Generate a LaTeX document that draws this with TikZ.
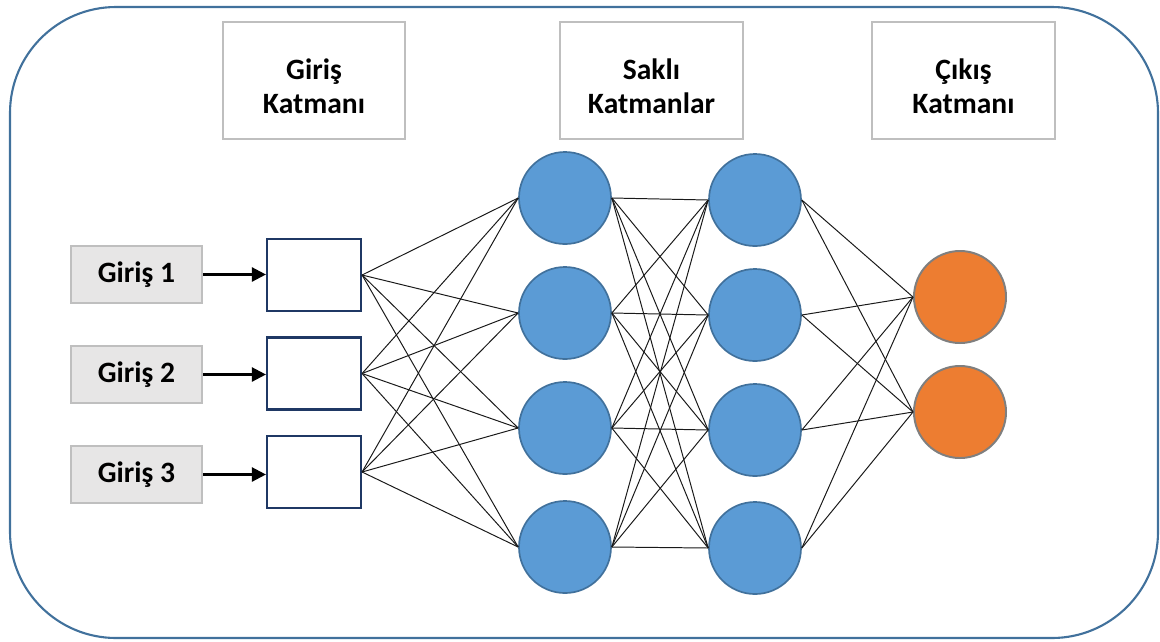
\documentclass[tikz,border=0pt]{standalone}
\usepackage{fontspec}
\setmainfont{Carlito}
\usetikzlibrary{arrows.meta}
\definecolor{frameblue}{HTML}{41719C}
\definecolor{boxgray}{HTML}{BFBFBF}
\definecolor{fillgray}{HTML}{E7E6E6}
\definecolor{navy}{HTML}{1F3864}
\definecolor{nodeblue}{HTML}{5B9BD5}
\definecolor{nodeblueb}{HTML}{41719C}
\definecolor{nodeorange}{HTML}{ED7D31}
\definecolor{orangeb}{HTML}{7F7F7F}
\tikzset{
  titlebox/.style={draw=boxgray, line width=1.4pt, fill=white, minimum width=4.55cm, minimum height=2.925cm, inner sep=0pt},
  titletext/.style={align=center, inner sep=0pt, font=\bfseries\fontsize{21}{24}\selectfont},
  inbox/.style={draw=boxgray, line width=1.4pt, fill=fillgray, minimum width=3.275cm, minimum height=1.425cm, inner sep=0pt, font=\bfseries\fontsize{21}{24}\selectfont},
  sqbox/.style={draw=navy, line width=1.5pt, fill=white, minimum width=2.35cm, minimum height=1.8cm, inner sep=0pt},
  hid/.style={circle, draw=nodeblueb, line width=1.2pt, fill=nodeblue, minimum size=2.3cm, inner sep=0pt},
  outn/.style={circle, draw=orangeb, line width=1.4pt, fill=nodeorange, minimum size=2.3cm, inner sep=0pt},
  conn/.style={draw=black!90, line width=0.7pt},
  inarrow/.style={draw=black, line width=1.7pt, -{Triangle[length=10pt,width=10pt]}}
}
\begin{document}
\begin{tikzpicture}[x=0.025cm,y=-0.025cm]
\useasboundingbox (0,0) rectangle (1160,641);
\draw[frameblue, line width=1.5pt, rounded corners=2.65cm] (10,7) rectangle (1158,638);
\node[titlebox] (t1) at (314,80.5) {};
\node[titlebox] (t2) at (651.5,80.5) {};
\node[titlebox] (t3) at (963.5,80.5) {};
\node[titletext] (t1x) at ([yshift=-4pt]t1.center) {Giriş\\Katmanı};
\node[titletext] (t2x) at ([yshift=-4pt]t2.center) {Saklı\\Katmanlar};
\node[titletext] (t3x) at ([yshift=-4pt]t3.center) {Çıkış\\Katmanı};
\node[sqbox] (s1) at (314,275) {};
\node[sqbox] (s2) at (314,373.5) {};
\node[sqbox] (s3) at (314,472) {};
\foreach \i/\y in {1/274.5,2/374.5,3/474.5} {
  \node[inbox] (g\i) at (136.5,\y) {\raisebox{-1.5pt}{Giriş \i}};
}
\foreach \i in {1,2,3} { \draw[inarrow] (g\i.east) -- (g\i.east -| s\i.west); }
\foreach \i/\y in {1/198,2/313,3/428,4/547} { \node[hid] (a\i) at (565,\y) {}; }
\foreach \i/\y in {1/200,2/315,3/430,4/548} { \node[hid] (b\i) at (755,\y) {}; }
\node[outn] (o1) at (960,297) {};
\node[outn] (o2) at (960,412) {};
\foreach \i in {1,2,3} { \foreach \j in {1,2,3,4} { \draw[conn] (s\i.east) -- (a\j.west); } }
\foreach \i in {1,2,3,4} { \foreach \j in {1,2,3,4} { \draw[conn] (a\i.east) -- (b\j.west); } }
\foreach \i in {1,2,3,4} { \foreach \j in {1,2} { \draw[conn] (b\i.east) -- (o\j.west); } }
\end{tikzpicture}
\end{document}
